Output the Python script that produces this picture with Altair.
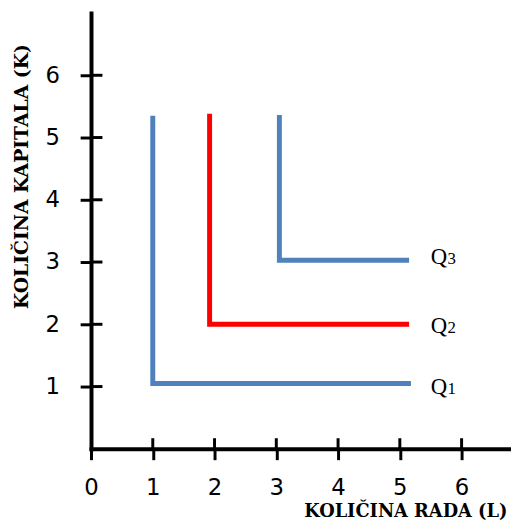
import altair as alt
import pandas as pd

# ---- data ----
curve_names = ["Q1", "Q2", "Q3"]
curve_corner_x = [1.0, 1.92, 3.05]
curve_corner_y = [1.05, 2.0, 3.03]
curve_top_y = [5.35, 5.38, 5.36]
curve_end_x = [5.18, 5.15, 5.15]
curve_colors = ["#4F81BD", "#FF0000", "#4F81BD"]

label_letters = ["Q", "Q", "Q"]
label_subs = ["1", "2", "3"]
label_x = [5.5, 5.5, 5.5]
label_y = [1.0, 1.98, 3.1]

x_tick_values = [0, 1, 2, 3, 4, 5, 6]
y_tick_values = [1, 2, 3, 4, 5, 6]
x_cross_ticks = [1, 2, 3, 4, 5, 6]
y_cross_ticks = [1, 2, 3, 4, 5, 6]

x_title = "KOLIČINA RADA (L)"
y_title = "KOLIČINA KAPITALA (K)"

# inner half-length of the crossing tick marks, in axis units
X_TICK_HALF = 0.17
Y_TICK_HALF = 0.185

# ---- tables ----
rows = []
for i, name in enumerate(curve_names):
    rows.append({"series": name, "kind": "curve", "x": curve_corner_x[i], "y": curve_top_y[i], "o": 0})
    rows.append({"series": name, "kind": "curve", "x": curve_corner_x[i], "y": curve_corner_y[i], "o": 1})
    rows.append({"series": name, "kind": "curve", "x": curve_end_x[i], "y": curve_corner_y[i], "o": 2})
tick_names = []
for v in x_cross_ticks:
    n = f"xt{v}"
    tick_names.append(n)
    rows.append({"series": n, "kind": "tick", "x": v, "y": 0.0, "o": 0})
    rows.append({"series": n, "kind": "tick", "x": v, "y": X_TICK_HALF, "o": 1})
for v in y_cross_ticks:
    n = f"yt{v}"
    tick_names.append(n)
    rows.append({"series": n, "kind": "tick", "x": 0.0, "y": v, "o": 0})
    rows.append({"series": n, "kind": "tick", "x": Y_TICK_HALF, "y": v, "o": 1})
lines_df = pd.DataFrame(rows)

labels_df = pd.DataFrame({
    "curve": curve_names,
    "x": label_x,
    "y": label_y,
    "letter": label_letters,
    "sub": label_subs,
})

x_scale = alt.Scale(domain=[0, 6.8], nice=False, zero=False)
y_scale = alt.Scale(domain=[0, 7.0], nice=False, zero=False)

x_axis = alt.Axis(
    values=x_tick_values, format="d", grid=False,
    ticks=True, tickSize=11, tickWidth=3, tickColor="black",
    domainColor="black", domainWidth=4, domainCap="square",
    labelFont="DejaVu Sans", labelFontSize=23, labelColor="black",
    labelPadding=17, labelFlush=False, labelOverlap=False,
    title=x_title, titleFont="DejaVu Serif", titleFontWeight="bold",
    titleFontSize=18, titleColor="black", titleX=318, titleY=69,
    titleAlign="center", titleBaseline="alphabetic", titleAnchor="middle",
)
y_axis = alt.Axis(
    values=y_tick_values, format="d", grid=False,
    ticks=True, tickSize=11, tickWidth=3, tickColor="black",
    domainColor="black", domainWidth=4, domainCap="square",
    labelFont="DejaVu Sans", labelFontSize=23, labelColor="black",
    labelPadding=21, labelFlush=False, labelOverlap=False,
    title=y_title, titleFont="DejaVu Serif", titleFontWeight="bold",
    titleFontSize=19, titleColor="black", titleX=-70, titleY=165,
    titleAngle=-90, titleAlign="center", titleBaseline="middle", titleAnchor="middle",
)

base_lines = alt.Chart(lines_df).mark_line(
    strokeJoin="miter", strokeCap="butt"
).encode(
    x=alt.X("x:Q", scale=x_scale, axis=x_axis),
    y=alt.Y("y:Q", scale=y_scale, axis=y_axis),
    color=alt.Color(
        "series:N",
        scale=alt.Scale(domain=curve_names + tick_names,
                        range=curve_colors + ["#000000"] * len(tick_names)),
        legend=None,
    ),
    size=alt.Size("kind:N", scale=alt.Scale(domain=["curve", "tick"], range=[5, 3]), legend=None),
    order="o:Q",
)

q_letter = alt.Chart(labels_df).mark_text(
    font="Liberation Serif", fontSize=23, color="black", align="left", baseline="alphabetic", dy=8
).encode(x=alt.X("x:Q", scale=x_scale), y=alt.Y("y:Q", scale=y_scale), text="letter:N")

q_sub = alt.Chart(labels_df).mark_text(
    font="Liberation Serif", fontSize=17, color="black", align="left", baseline="alphabetic", dx=17, dy=8
).encode(x=alt.X("x:Q", scale=x_scale), y=alt.Y("y:Q", scale=y_scale), text="sub:N")

chart = alt.layer(base_lines, q_letter, q_sub).properties(
    width=425, height=441,
    autosize=alt.AutoSizeParams(type="none"),
    padding={"left": 84, "top": 2, "right": 0, "bottom": 72},
    background="white",
).configure_view(stroke=None)

chart.save("out.html", embed_options={"renderer": "svg", "actions": False})
